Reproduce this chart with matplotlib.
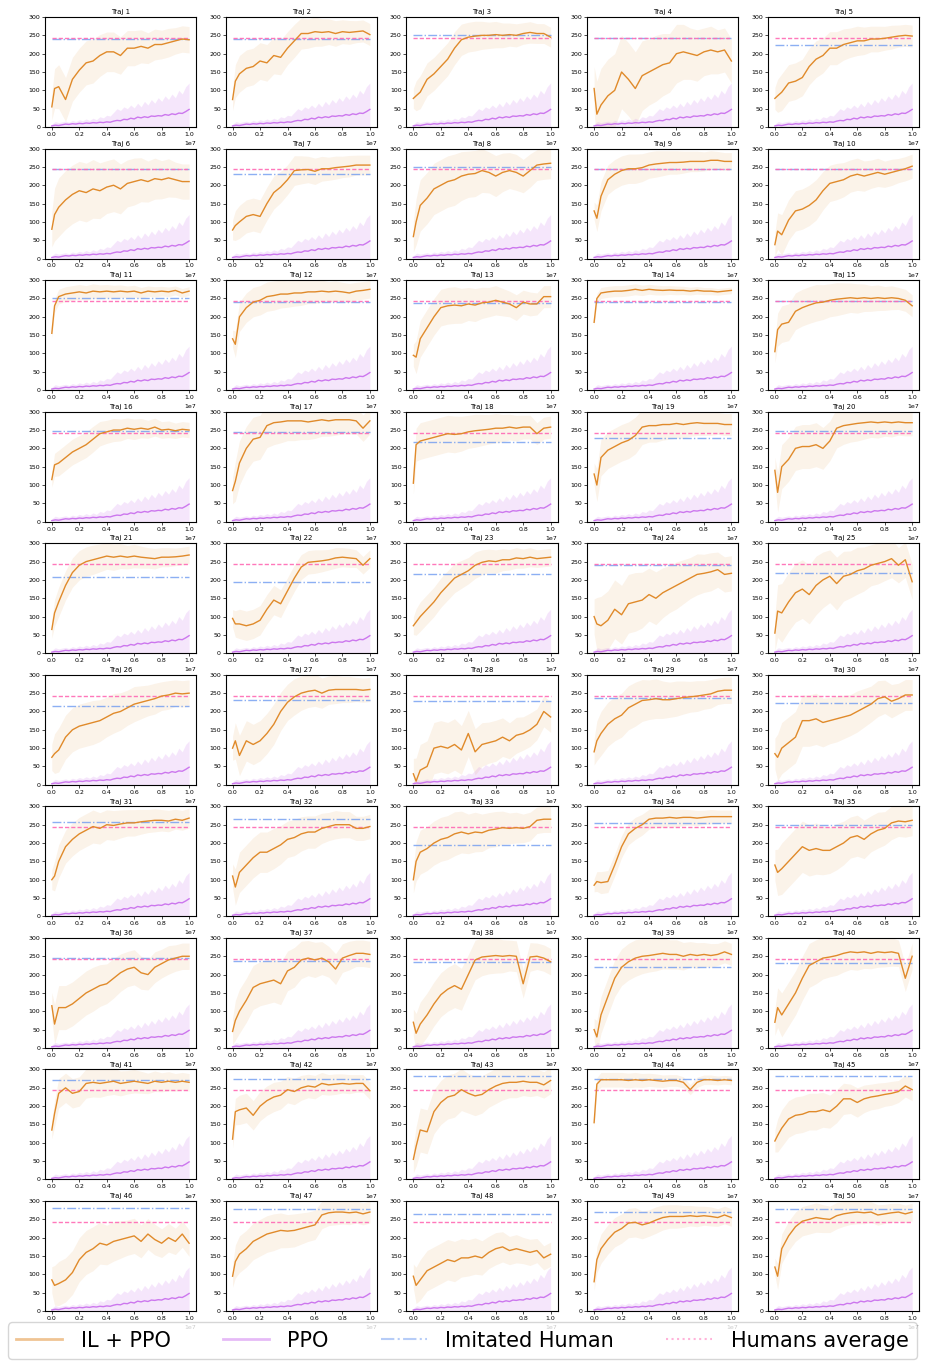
import numpy as np
import matplotlib
matplotlib.use("Agg")
import matplotlib.pyplot as plt
from matplotlib.lines import Line2D

# x positions (in units of 1e7 steps) where the IL+PPO curves were read
steps = [0.0, 0.02, 0.05, 0.10, 0.15, 0.20, 0.25, 0.30, 0.35, 0.40, 0.45,
         0.50, 0.55, 0.60, 0.65, 0.70, 0.75, 0.80, 0.85, 0.90, 0.95, 1.00]

# mean return of IL + PPO, one list per trajectory
il_ppo = [
    [55, 105, 110, 75, 130, 155, 175, 180, 195, 205, 205, 195, 215, 215, 220, 215, 225, 225, 230, 235, 240, 238],
    [75, 125, 145, 160, 165, 180, 175, 195, 190, 215, 235, 255, 255, 260, 258, 260, 255, 260, 258, 260, 262, 252],
    [78, 85, 95, 130, 145, 165, 185, 215, 238, 245, 248, 250, 250, 252, 250, 252, 250, 255, 258, 255, 255, 245],
    [105, 35, 60, 85, 100, 150, 130, 105, 140, 150, 160, 170, 175, 200, 205, 200, 195, 205, 210, 205, 210, 180],
    [78, 85, 95, 120, 125, 135, 165, 185, 195, 215, 215, 225, 230, 235, 235, 240, 240, 242, 245, 248, 250, 248],
    [80, 120, 140, 160, 175, 185, 180, 190, 185, 195, 200, 190, 205, 210, 215, 210, 218, 215, 220, 215, 210, 210],
    [78, 90, 100, 115, 120, 115, 150, 180, 195, 215, 240, 242, 243, 238, 245, 245, 248, 250, 252, 255, 255, 255],
    [60, 100, 145, 165, 190, 200, 210, 215, 225, 230, 232, 240, 235, 225, 235, 240, 235, 225, 240, 255, 258, 260],
    [130, 110, 170, 215, 230, 240, 245, 245, 248, 255, 258, 260, 262, 262, 263, 265, 265, 265, 268, 268, 265, 265],
    [38, 75, 65, 105, 130, 135, 145, 160, 185, 205, 210, 215, 225, 230, 225, 230, 235, 230, 235, 240, 245, 252],
    [155, 230, 255, 262, 265, 268, 265, 270, 268, 270, 268, 270, 268, 270, 265, 270, 268, 270, 268, 272, 265, 270],
    [140, 125, 200, 225, 240, 245, 255, 258, 262, 262, 265, 265, 268, 268, 270, 268, 270, 268, 265, 270, 272, 275],
    [95, 90, 140, 170, 200, 225, 230, 232, 230, 235, 232, 238, 240, 245, 240, 235, 225, 240, 235, 235, 255, 255],
    [185, 250, 265, 268, 270, 270, 272, 275, 272, 275, 273, 272, 273, 272, 272, 270, 272, 270, 270, 268, 270, 272],
    [105, 165, 180, 185, 215, 225, 232, 238, 240, 245, 248, 250, 252, 250, 252, 250, 252, 250, 252, 250, 245, 230],
    [115, 155, 160, 175, 190, 200, 210, 225, 240, 245, 250, 250, 255, 252, 255, 252, 258, 250, 252, 248, 252, 250],
    [85, 110, 160, 200, 225, 230, 262, 270, 272, 275, 275, 275, 272, 275, 278, 275, 278, 278, 278, 275, 255, 275],
    [105, 210, 220, 225, 230, 235, 240, 238, 240, 245, 248, 250, 252, 255, 255, 258, 255, 258, 258, 240, 255, 258],
    [130, 100, 175, 195, 205, 215, 222, 235, 258, 262, 262, 265, 265, 268, 265, 268, 270, 268, 268, 268, 265, 265],
    [140, 80, 150, 170, 200, 205, 205, 210, 200, 220, 255, 262, 265, 268, 270, 272, 270, 272, 270, 272, 270, 270],
    [65, 110, 140, 185, 220, 240, 250, 255, 260, 265, 262, 265, 262, 265, 262, 260, 258, 262, 262, 263, 265, 268],
    [95, 80, 80, 75, 80, 90, 120, 145, 135, 170, 205, 235, 248, 250, 252, 255, 260, 262, 260, 258, 240, 258],
    [75, 85, 100, 120, 140, 165, 185, 205, 215, 225, 240, 248, 252, 250, 255, 255, 260, 258, 262, 258, 260, 262],
    [100, 80, 75, 90, 120, 105, 135, 140, 145, 160, 150, 165, 175, 185, 195, 205, 215, 218, 222, 228, 215, 218],
    [55, 115, 110, 140, 165, 175, 160, 185, 200, 210, 190, 210, 215, 225, 230, 240, 245, 250, 258, 240, 255, 195],
    [75, 85, 95, 130, 150, 160, 165, 170, 175, 185, 195, 200, 210, 220, 225, 230, 235, 242, 245, 250, 248, 250],
    [100, 120, 80, 120, 110, 120, 140, 165, 200, 225, 240, 250, 255, 258, 250, 258, 260, 260, 260, 260, 258, 260],
    [30, 10, 40, 50, 100, 105, 100, 110, 95, 140, 90, 110, 115, 120, 130, 120, 135, 140, 150, 165, 200, 185],
    [90, 120, 140, 165, 180, 190, 210, 220, 230, 232, 235, 232, 232, 235, 238, 240, 242, 245, 248, 255, 258, 258],
    [85, 75, 100, 115, 130, 175, 175, 180, 170, 175, 180, 185, 190, 200, 210, 220, 235, 240, 228, 235, 245, 245],
    [100, 110, 150, 190, 210, 225, 235, 245, 240, 250, 248, 252, 255, 255, 258, 260, 262, 262, 260, 265, 262, 268],
    [110, 80, 120, 140, 160, 175, 175, 185, 195, 210, 215, 225, 230, 230, 240, 245, 250, 250, 250, 240, 240, 245],
    [100, 150, 175, 185, 200, 210, 215, 225, 230, 225, 230, 228, 235, 238, 242, 240, 242, 240, 245, 262, 265, 265],
    [85, 95, 92, 95, 140, 190, 225, 240, 250, 265, 268, 268, 270, 268, 270, 270, 268, 270, 272, 272, 272, 272],
    [140, 120, 130, 150, 170, 190, 180, 185, 180, 180, 190, 200, 215, 220, 210, 225, 235, 240, 255, 260, 258, 262],
    [115, 65, 110, 110, 120, 135, 150, 160, 170, 175, 190, 205, 215, 220, 205, 200, 220, 230, 240, 245, 250, 250],
    [45, 75, 100, 130, 165, 175, 180, 185, 175, 210, 220, 240, 245, 240, 245, 235, 215, 245, 252, 258, 258, 255],
    [70, 40, 65, 90, 120, 145, 160, 170, 160, 200, 240, 248, 250, 252, 250, 252, 250, 175, 248, 250, 245, 235],
    [50, 30, 90, 140, 190, 220, 235, 245, 250, 252, 255, 258, 255, 255, 250, 255, 252, 255, 252, 255, 262, 255],
    [70, 110, 90, 120, 150, 190, 225, 235, 245, 248, 252, 258, 262, 260, 262, 258, 262, 260, 262, 258, 190, 250],
    [135, 180, 235, 250, 235, 240, 262, 265, 262, 265, 268, 262, 265, 268, 265, 262, 268, 265, 268, 265, 268, 265],
    [110, 185, 190, 195, 175, 200, 215, 225, 230, 245, 240, 250, 255, 252, 262, 258, 260, 262, 260, 262, 262, 242],
    [55, 90, 135, 130, 185, 210, 225, 230, 245, 235, 228, 232, 245, 255, 262, 265, 265, 268, 265, 265, 258, 270],
    [155, 260, 272, 272, 272, 272, 270, 272, 270, 272, 270, 268, 270, 270, 265, 245, 265, 272, 272, 270, 272, 270],
    [105, 120, 140, 165, 175, 178, 185, 185, 190, 185, 200, 220, 220, 210, 220, 225, 228, 232, 235, 240, 255, 245],
    [85, 70, 75, 85, 105, 140, 160, 170, 185, 180, 190, 195, 200, 205, 190, 210, 195, 185, 200, 190, 210, 185],
    [95, 135, 155, 170, 190, 200, 210, 215, 220, 218, 220, 225, 230, 235, 262, 268, 270, 270, 268, 270, 265, 270],
    [95, 70, 85, 110, 120, 130, 140, 135, 145, 145, 150, 145, 160, 170, 175, 165, 170, 165, 160, 165, 145, 155],
    [80, 140, 170, 195, 215, 225, 240, 242, 235, 240, 248, 255, 258, 258, 258, 260, 258, 260, 258, 255, 262, 255],
    [120, 95, 170, 205, 230, 245, 250, 255, 252, 250, 260, 265, 268, 270, 268, 270, 262, 265, 268, 270, 265, 270],
]

# spread of the IL + PPO band, per trajectory, and its rough shape over training
il_std = [60, 50, 45, 100, 50, 80, 45, 70, 40, 55,
          20, 40, 50, 15, 50, 35, 60, 50, 50, 60,
          40, 40, 40, 80, 80, 60, 55, 70, 60, 70,
          45, 55, 60, 30, 70, 60, 60, 60, 50, 60,
          40, 40, 60, 20, 50, 60, 50, 55, 40, 40]
std_shape = [0.6, 0.9, 1.0, 1.0, 1.0, 1.0, 1.0, 1.0, 0.95, 0.9, 0.9,
             0.85, 0.8, 0.8, 0.75, 0.7, 0.7, 0.65, 0.65, 0.6, 0.6, 0.6]

# imitated human return per trajectory and humans average
imitated = [239, 240, 250, 243, 223, 243, 232, 250, 243, 243,
            250, 240, 238, 240, 243, 248, 245, 218, 229, 248,
            208, 195, 215, 240, 219, 215, 232, 229, 238, 223,
            258, 265, 196, 255, 250, 245, 238, 235, 220, 232,
            270, 273, 282, 273, 281, 280, 279, 264, 270, 279]
humans_avg = 243

# PPO baseline (same for every trajectory)
ppo_steps = [i * 0.025 for i in range(41)]
ppo_mean = [3, 5, 4, 6, 8, 7, 9, 8, 10, 9, 11, 10, 12, 11, 13, 12, 14, 13, 16, 18, 17,
            21, 20, 24, 22, 27, 25, 28, 26, 30, 29, 31, 30, 34, 32, 36, 34, 38, 37, 42, 48]
ppo_hi = [8, 15, 12, 14, 16, 13, 18, 15, 20, 17, 22, 18, 24, 20, 28, 25, 32, 30, 40, 50, 45,
          55, 50, 60, 52, 65, 55, 70, 60, 75, 65, 80, 70, 85, 75, 90, 80, 100, 90, 110, 120]

c_il = '#e08a2a'
c_ppo = '#cc77ee'
c_imit = '#6f9bf0'
c_hum = '#ff69b4'

x = np.array(steps) * 1e7
xp = np.array(ppo_steps) * 1e7

fig, axs = plt.subplots(10, 5, figsize=(9.27, 13.61), dpi=100)
fig.subplots_adjust(left=0.0485, right=0.9914, top=0.9875, bottom=0.0367,
                    wspace=0.197, hspace=0.196)

for i, ax in enumerate(axs.flat):
    m = np.array(il_ppo[i], dtype=float)
    s = il_std[i] * np.array(std_shape)
    ax.fill_between(x, m - s, m + s, color=c_il, alpha=0.1, lw=0)
    ax.fill_between(xp, 0, ppo_hi, color=c_ppo, alpha=0.18, lw=0)
    ax.hlines(imitated[i], 0, 1e7, colors=c_imit, linestyles='-.', lw=1.0, alpha=0.8)
    ax.hlines(humans_avg, 0, 1e7, colors=c_hum, linestyles=(0, (3, 1.5)), lw=1.0, alpha=0.9)
    ax.plot(xp, ppo_mean, color=c_ppo, lw=1.0)
    ax.plot(x, m, color=c_il, lw=1.0)
    ax.set_ylim(0, 300)
    ax.set_yticks(range(0, 301, 50))
    ax.set_xticks(np.arange(0, 1.01, 0.2) * 1e7)
    ax.tick_params(labelsize=4.5, length=2, width=0.5, pad=1.5)
    ax.xaxis.get_offset_text().set_fontsize(4.5)
    ax.set_title(f'Traj {i + 1}', fontsize=5, pad=2)

handles = [Line2D([], [], color=c_il, lw=2, alpha=0.5),
           Line2D([], [], color=c_ppo, lw=2, alpha=0.5),
           Line2D([], [], color=c_imit, lw=1.5, ls='-.', alpha=0.5),
           Line2D([], [], color=c_hum, lw=1.5, ls=':', alpha=0.5)]
labels = ['IL + PPO', 'PPO', 'Imitated Human', 'Humans average']
fig.legend(handles, labels, loc='lower left', ncol=4,
           bbox_to_anchor=(8 / 927, 2 / 1361),
           fontsize=15, handlelength=2.2, handletextpad=0.9,
           columnspacing=2.5, borderaxespad=0, frameon=True)

plt.savefig('out.png', dpi=100)
